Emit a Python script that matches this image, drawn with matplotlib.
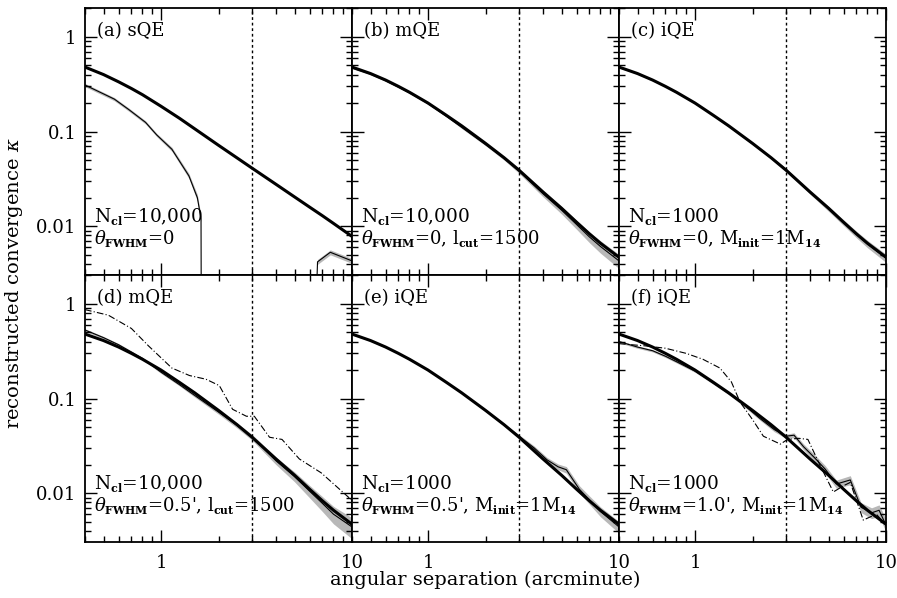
import numpy as np
import matplotlib
matplotlib.use("Agg")
import matplotlib.pyplot as plt
import matplotlib._mathtext as _mt
from matplotlib.ticker import LogLocator, FixedLocator, NullFormatter, FixedFormatter

plt.rcParams['font.family'] = ['DejaVu Serif']
plt.rcParams['mathtext.fontset'] = 'dejavuserif'
try:
    _mt.SHRINK_FACTOR = 0.6
except Exception:
    pass

# ---------------- data ----------------
x_grid = [0.4, 0.5, 0.6, 0.7, 0.8, 1.0, 1.25, 1.5, 2.0, 2.5, 3.0, 4.0, 5.0, 6.0, 7.0, 8.0, 10.0]

# true (input) profile, panels b-f
kappa_true = [0.48, 0.41, 0.35, 0.30, 0.26, 0.20, 0.148, 0.115, 0.075, 0.053, 0.039,
              0.023, 0.0155, 0.011, 0.0083, 0.0066, 0.0047]
# panel (a) reference profile
kappa_true_a = [0.48, 0.40, 0.335, 0.285, 0.245, 0.185, 0.138, 0.107, 0.0716, 0.0527, 0.041,
                0.0277, 0.0204, 0.0159, 0.0129, 0.0107, 0.0078]

# panel (a) sQE reconstruction (values below axis = negative)
a_x = [0.4, 0.5, 0.57, 0.68, 0.83, 0.95, 1.14, 1.4, 1.55, 1.62, 1.63, 6.2, 6.6, 7.7, 10.0]
a_y = [0.31, 0.25, 0.22, 0.17, 0.125, 0.092, 0.065, 0.034, 0.02, 0.012, 1e-4, 1e-4, 0.0042, 0.0053, 0.0043]
a_w = [0.04, 0.04, 0.04, 0.04, 0.04, 0.04, 0.05, 0.06, 0.08, 0.08, 0.0, 0.0, 0.06, 0.06, 0.06]

b_y = [0.47, 0.405, 0.345, 0.295, 0.257, 0.198, 0.145, 0.111, 0.073, 0.052, 0.038,
       0.022, 0.0148, 0.0104, 0.0077, 0.0061, 0.0043]
b_w = [0.02, 0.02, 0.02, 0.02, 0.02, 0.02, 0.02, 0.03, 0.03, 0.04, 0.05,
       0.07, 0.09, 0.11, 0.13, 0.15, 0.17]

c_y = [0.48, 0.41, 0.35, 0.30, 0.26, 0.20, 0.148, 0.114, 0.075, 0.053, 0.0395,
       0.023, 0.0153, 0.0109, 0.0082, 0.0065, 0.0046]
c_w = [0.02, 0.02, 0.02, 0.02, 0.02, 0.02, 0.02, 0.02, 0.03, 0.03, 0.04,
       0.05, 0.06, 0.07, 0.08, 0.09, 0.1]

d_y = [0.53, 0.44, 0.37, 0.31, 0.265, 0.19, 0.14, 0.108, 0.072, 0.052, 0.039,
       0.022, 0.015, 0.0105, 0.0078, 0.006, 0.0044]
d_w = [0.03, 0.03, 0.03, 0.03, 0.03, 0.03, 0.03, 0.04, 0.05, 0.06, 0.07,
       0.09, 0.12, 0.15, 0.18, 0.21, 0.25]
d_dd_x = [0.4, 0.53, 0.7, 0.86, 1.14, 1.41, 1.72, 2.02, 2.37, 2.8, 3.08, 3.7, 4.3, 5.3, 6.9, 10.0]
d_dd_y = [0.87, 0.76, 0.55, 0.36, 0.21, 0.175, 0.16, 0.137, 0.077, 0.065, 0.065,
          0.039, 0.037, 0.023, 0.0164, 0.0084]

e_x = [0.4, 0.5, 0.6, 0.7, 0.8, 1.0, 1.25, 1.5, 2.0, 2.5, 3.0, 3.6, 4.2, 4.8, 5.3, 6.2, 7.0, 8.0, 10.0]
e_y = [0.48, 0.41, 0.35, 0.30, 0.26, 0.20, 0.148, 0.115, 0.075, 0.053, 0.040, 0.030,
       0.0225, 0.019, 0.0177, 0.011, 0.0085, 0.0064, 0.0044]
e_w = [0.02, 0.02, 0.02, 0.02, 0.02, 0.02, 0.02, 0.02, 0.03, 0.03, 0.04, 0.05,
       0.06, 0.07, 0.08, 0.09, 0.1, 0.12, 0.14]

f_x = [0.4, 0.5, 0.6, 0.7, 0.8, 1.0, 1.25, 1.5, 1.8, 2.2, 2.6, 3.0, 3.3, 3.7, 4.2,
       4.8, 5.5, 6.5, 7.4, 8.4, 9.2, 10.0]
f_y = [0.40, 0.35, 0.32, 0.28, 0.245, 0.195, 0.145, 0.113, 0.086, 0.061, 0.047, 0.040,
       0.041, 0.031, 0.024, 0.018, 0.0125, 0.0138, 0.0071, 0.0062, 0.0066, 0.0046]
f_w = [0.03, 0.03, 0.03, 0.03, 0.03, 0.03, 0.03, 0.03, 0.04, 0.04, 0.05, 0.05,
       0.06, 0.07, 0.08, 0.09, 0.1, 0.11, 0.12, 0.13, 0.14, 0.15]
f_dd_x = [0.4, 0.55, 0.7, 0.9, 1.1, 1.35, 1.55, 1.72, 2.0, 2.28, 2.8, 3.05, 3.5, 3.9,
          4.5, 5.3, 6.0, 6.5, 7.6, 8.9, 10.0]
f_dd_y = [0.38, 0.36, 0.34, 0.30, 0.26, 0.21, 0.15, 0.092, 0.06, 0.04, 0.033, 0.037,
          0.038, 0.037, 0.02, 0.0103, 0.012, 0.013, 0.0052, 0.006, 0.0046]

panel_titles = ["(a) sQE", "(b) mQE", "(c) iQE", "(d) mQE", "(e) iQE", "(f) iQE"]
panel_line1 = [r"N$_{\mathbf{cl}}$=10,000", r"N$_{\mathbf{cl}}$=10,000", r"N$_{\mathbf{cl}}$=1000",
               r"N$_{\mathbf{cl}}$=10,000", r"N$_{\mathbf{cl}}$=1000", r"N$_{\mathbf{cl}}$=1000"]
panel_line2 = [r"$\theta_{\mathbf{FWHM}}$=0",
               r"$\theta_{\mathbf{FWHM}}$=0, l$_{\mathbf{cut}}$=1500",
               r"$\theta_{\mathbf{FWHM}}$=0, M$_{\mathbf{init}}$=1M$_{\mathbf{14}}$",
               r"$\theta_{\mathbf{FWHM}}$=0.5', l$_{\mathbf{cut}}$=1500",
               r"$\theta_{\mathbf{FWHM}}$=0.5', M$_{\mathbf{init}}$=1M$_{\mathbf{14}}$",
               r"$\theta_{\mathbf{FWHM}}$=1.0', M$_{\mathbf{init}}$=1M$_{\mathbf{14}}$"]
x_cut = 3.0
xlim = (0.4, 10.0)
ylim = (0.00305, 2.02)

# ---------------- figure ----------------
fig, axes = plt.subplots(2, 3, figsize=(8.97, 5.98), dpi=100)
fig.subplots_adjust(left=85/897, right=886/897, top=1-8/598, bottom=1-542/598,
                    wspace=0, hspace=0)

thin = dict(color='black', lw=0.8)
thick = dict(color='black', lw=2.2)
band = dict(color='#b8b8b8', lw=0)

def draw_band(ax, x, y, w):
    y = np.asarray(y); w = np.asarray(w)
    ax.fill_between(x, y*(1-w), y*(1+w), **band)

# (a)
ax = axes[0, 0]
draw_band(ax, a_x, a_y, a_w)
ax.plot(a_x, a_y, **thin)
ax.plot(x_grid, kappa_true_a, **thick)
# (b)
ax = axes[0, 1]
draw_band(ax, x_grid, b_y, b_w)
ax.plot(x_grid, b_y, **thin)
ax.plot(x_grid, kappa_true, **thick)
# (c)
ax = axes[0, 2]
draw_band(ax, x_grid, c_y, c_w)
ax.plot(x_grid, c_y, **thin)
ax.plot(x_grid, kappa_true, **thick)
# (d)
ax = axes[1, 0]
draw_band(ax, x_grid, d_y, d_w)
ax.plot(x_grid, d_y, **thin)
ax.plot(x_grid, kappa_true, **thick)
ax.plot(d_dd_x, d_dd_y, color='black', lw=0.8, ls=(0, (6, 2, 1, 2)))
# (e)
ax = axes[1, 1]
draw_band(ax, e_x, e_y, e_w)
ax.plot(e_x, e_y, **thin)
ax.plot(x_grid, kappa_true, **thick)
# (f)
ax = axes[1, 2]
draw_band(ax, f_x, f_y, f_w)
ax.plot(f_x, f_y, **thin)
ax.plot(x_grid, kappa_true, **thick)
ax.plot(f_dd_x, f_dd_y, color='black', lw=0.8, ls=(0, (6, 2, 1, 2)))

for i, ax in enumerate(axes.flat):
    r, c = divmod(i, 3)
    ax.set_xscale('log'); ax.set_yscale('log')
    ax.set_xlim(*xlim); ax.set_ylim(*ylim)
    ax.axvline(x_cut, color='black', lw=1.0, ls=(0, (2, 2)))
    ax.xaxis.set_major_locator(FixedLocator([1, 10]))
    ax.xaxis.set_minor_locator(LogLocator(base=10, subs=np.arange(2, 10)))
    ax.yaxis.set_major_locator(FixedLocator([0.01, 0.1, 1]))
    ax.yaxis.set_minor_locator(LogLocator(base=10, subs=np.arange(2, 10)))
    ax.xaxis.set_minor_formatter(NullFormatter())
    ax.yaxis.set_minor_formatter(NullFormatter())
    ax.xaxis.set_major_formatter(FixedFormatter(['1', '10']))
    ax.yaxis.set_major_formatter(FixedFormatter(['0.01', '0.1', '1']))
    ax.tick_params(which='both', direction='in', top=True, right=True, width=1.0,
                   labelsize=13)
    ax.tick_params(which='major', length=8.5)
    ax.tick_params(which='minor', length=4.5)
    if c != 0:
        ax.tick_params(labelleft=False)
    if r != 1:
        ax.tick_params(labelbottom=False)
    ax.tick_params(axis='x', pad=9)
    ax.tick_params(axis='y', pad=6)
    for s in ax.spines.values():
        s.set_linewidth(1.3)
    ax.text(0.045, 0.893, panel_titles[i], transform=ax.transAxes, fontsize=13,
            va='baseline', ha='left')
    ax.text(0.035, 0.2, panel_line1[i], transform=ax.transAxes, fontsize=13.3,
            va='baseline', ha='left')
    ax.text(0.035, 0.117, panel_line2[i], transform=ax.transAxes, fontsize=13,
            va='baseline', ha='left')

fig.text(14/897, 1-283/598, r"reconstructed convergence $\kappa$", rotation=90,
         va='center', ha='center', fontsize=14)
fig.text((85+886)/2/897, 1-580/598, "angular separation (arcminute)",
         va='center', ha='center', fontsize=14)

fig.savefig("out.png", dpi=100)
